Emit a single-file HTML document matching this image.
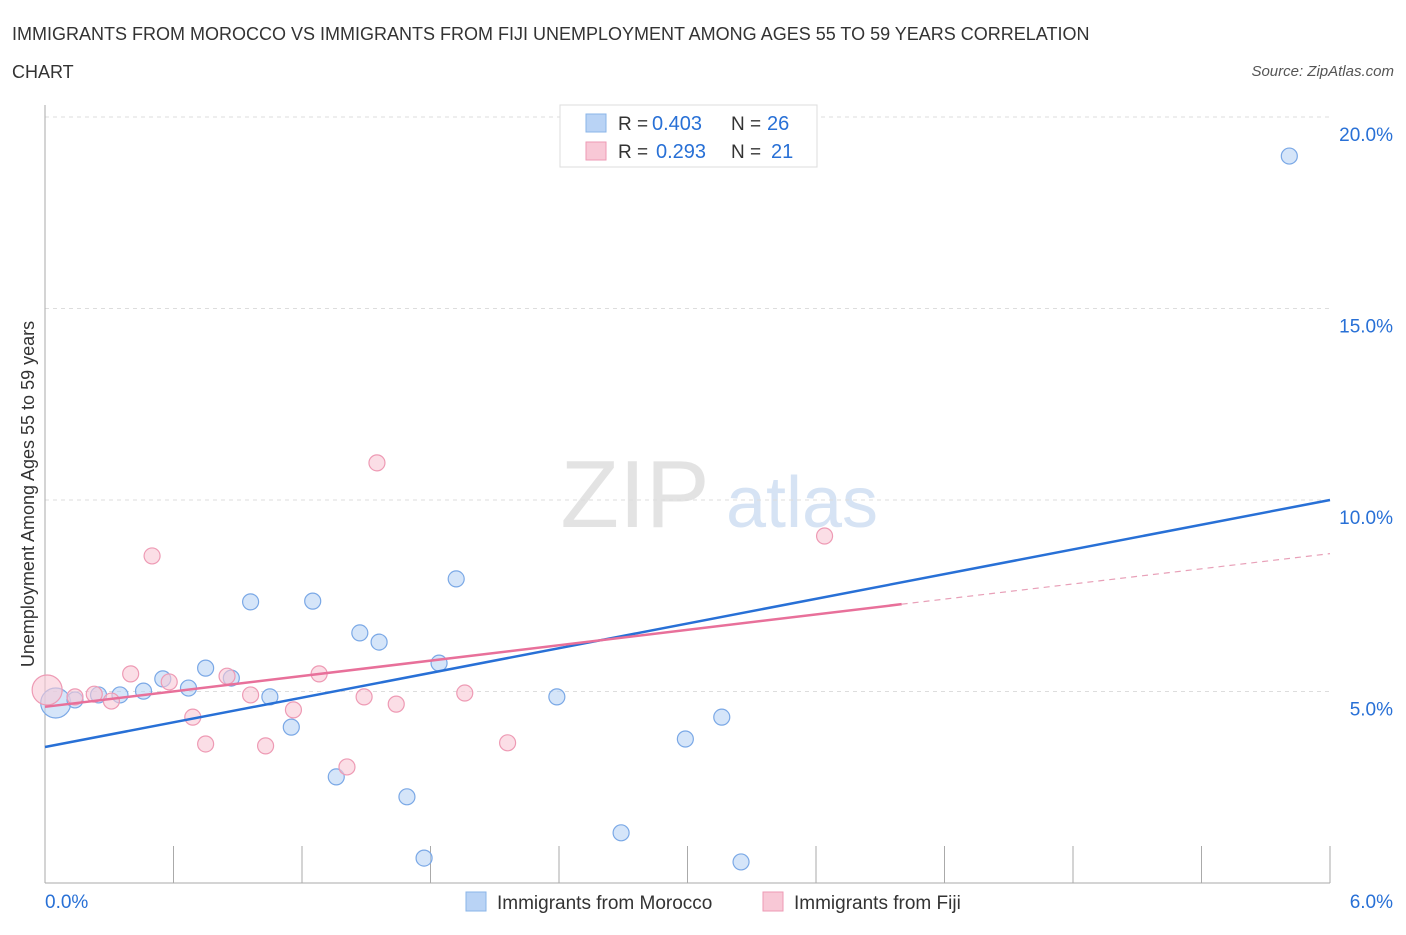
<!DOCTYPE html>
<html><head><meta charset="utf-8">
<style>
body{margin:0;background:#fff;font-family:"Liberation Sans",sans-serif;}
svg text{font-family:"Liberation Sans",sans-serif;}
</style></head>
<body>
<svg id="chart" width="1406" height="930" xmlns="http://www.w3.org/2000/svg">
<text x="12" y="40" font-size="18" fill="#333">IMMIGRANTS FROM MOROCCO VS IMMIGRANTS FROM FIJI UNEMPLOYMENT AMONG AGES 55 TO 59 YEARS CORRELATION</text>
<text x="12" y="78" font-size="18" fill="#333">CHART</text>
<text x="1394" y="76" font-size="15" fill="#555" font-style="italic" text-anchor="end">Source: ZipAtlas.com</text>
<g>
<text x="635" y="527" font-size="96" fill="#d8d8d8" font-family="Liberation Serif" text-anchor="middle" opacity="0.7">ZIP</text>
<text x="802" y="527" font-size="72" fill="#c5d8f0" text-anchor="middle" opacity="0.7">atlas</text>
</g>
<g id="grid"></g>
<g id="axes"></g>
<g id="marks"></g>
<text x="34" y="494" font-size="18" fill="#333" text-anchor="middle" transform="rotate(-90 34 494)">Unemployment Among Ages 55 to 59 years</text>
<g>
<rect x="560" y="105" width="257" height="62" fill="#fff" stroke="#ddd"/>
<rect x="586" y="114" width="20" height="18" fill="#b9d3f5" stroke="#8ab4e8"/>
<text x="618" y="130" font-size="19" fill="#333">R =</text>
<text x="652" y="130" font-size="20" fill="#2870d6">0.403</text>
<text x="731" y="130" font-size="19" fill="#333">N =</text>
<text x="767" y="130" font-size="20" fill="#2870d6">26</text>
<rect x="586" y="142" width="20" height="18" fill="#f8c8d6" stroke="#ee9ab4"/>
<text x="618" y="158" font-size="19" fill="#333">R =</text>
<text x="656" y="158" font-size="20" fill="#2870d6">0.293</text>
<text x="731" y="158" font-size="19" fill="#333">N =</text>
<text x="771" y="158" font-size="20" fill="#2870d6">21</text>
</g>
<g>
<rect x="466" y="892" width="20" height="19" fill="#b9d3f5" stroke="#8ab4e8"/>
<text x="497" y="909" font-size="19" fill="#333">Immigrants from Morocco</text>
<rect x="763" y="892" width="20" height="19" fill="#f8c8d6" stroke="#ee9ab4"/>
<text x="794" y="909" font-size="19" fill="#333">Immigrants from Fiji</text>
</g>
</svg>
<script>
const moroccoX=[0.05,0.14,0.25,0.35,0.46,0.55,0.67,0.75,0.87,0.96,1.05,1.15,1.25,1.36,1.47,1.56,1.69,1.77,1.84,1.92,2.39,2.69,2.99,3.16,3.25,5.81];
const moroccoY=[4.70,4.78,4.91,4.91,5.01,5.33,5.09,5.61,5.35,7.34,4.86,4.07,7.36,2.77,6.53,6.29,2.25,0.65,5.74,7.94,4.86,1.31,3.76,4.33,0.55,18.98];
const fijiX=[0.01,0.14,0.23,0.31,0.40,0.50,0.58,0.69,0.75,0.85,0.96,1.03,1.16,1.28,1.41,1.49,1.55,1.64,1.96,2.16,3.64];
const fijiY=[5.04,4.86,4.93,4.75,5.46,8.54,5.25,4.33,3.63,5.40,4.91,3.58,4.52,5.46,3.03,4.86,10.97,4.67,4.96,3.66,9.06];
const moroccoTrend=[[0,3.55],[6,10.0]];
const fijiTrend=[[0,4.6],[4.0,7.28]];
const fijiTrendExt=[[4.0,7.28],[6,8.6]];
const yTicks=[5,10,15,20];
const yTickLabels=["5.0%","10.0%","15.0%","20.0%"];
const xTicks=[0,0.6,1.2,1.8,2.4,3.0,3.6,4.2,4.8,5.4,6.0];

const NS="http://www.w3.org/2000/svg";
const X=v=>45+v*(1285/6);
const Y=v=>883-v*38.3;
function mk(tag,attrs,parent){const e=document.createElementNS(NS,tag);for(const k in attrs)e.setAttribute(k,attrs[k]);parent.appendChild(e);return e;}
const grid=document.getElementById('grid'),axes=document.getElementById('axes'),marks=document.getElementById('marks');
yTicks.forEach((t,i)=>{
 const l=mk('line',{x1:45,x2:1330,y1:Y(t),y2:Y(t),stroke:'#ddd','stroke-dasharray':'4,4'},grid);
 
 
 const tx=mk('text',{x:1393,y:Y(t)+24,'font-size':19,fill:'#2870d6','text-anchor':'end'},axes);
 tx.textContent=yTickLabels[i];
 
 
});
const ax=mk('line',{x1:45,x2:45,y1:105,y2:883,stroke:'#aaa'},axes);


const bx=mk('line',{x1:45,x2:1330,y1:883,y2:883,stroke:'#aaa'},axes);


xTicks.forEach(t=>{
 const l=mk('line',{x1:X(t),x2:X(t),y1:846,y2:883,stroke:'#aaa'},axes);
 
 
});
const x0=mk('text',{x:45,y:908,'font-size':19,fill:'#2870d6'},axes);x0.textContent='0.0%';


const x1=mk('text',{x:1393,y:908,'font-size':19,fill:'#2870d6','text-anchor':'end'},axes);x1.textContent='6.0%';



function pts(xs,ys,fill,stroke,name){
 xs.forEach((x,i)=>{
  const c=mk('circle',{cx:X(x),cy:Y(ys[i]),r:i===0?15:8,fill:fill,'fill-opacity':0.6,stroke:stroke,'stroke-width':1.2},marks);
  
  
 });
}
pts(moroccoX,moroccoY,'#b9d3f5','#7aa8e6','morocco-point');
pts(fijiX,fijiY,'#f8c8d6','#ee9ab4','fiji-point');
function line(p,stroke,w,dash,name){
 const l=mk('line',{x1:X(p[0][0]),y1:Y(p[0][1]),x2:X(p[1][0]),y2:Y(p[1][1]),stroke:stroke,'stroke-width':w},marks);
 if(dash)l.setAttribute('stroke-dasharray',dash);
 
 
}
line(moroccoTrend,'#2870d6',2.5,null,'morocco-trendline');
line(fijiTrend,'#e8709a',2.5,null,'fiji-trendline');
line(fijiTrendExt,'#e8a0b8',1.2,'6,5','fiji-trendline-extension');
</script>
</body></html>
